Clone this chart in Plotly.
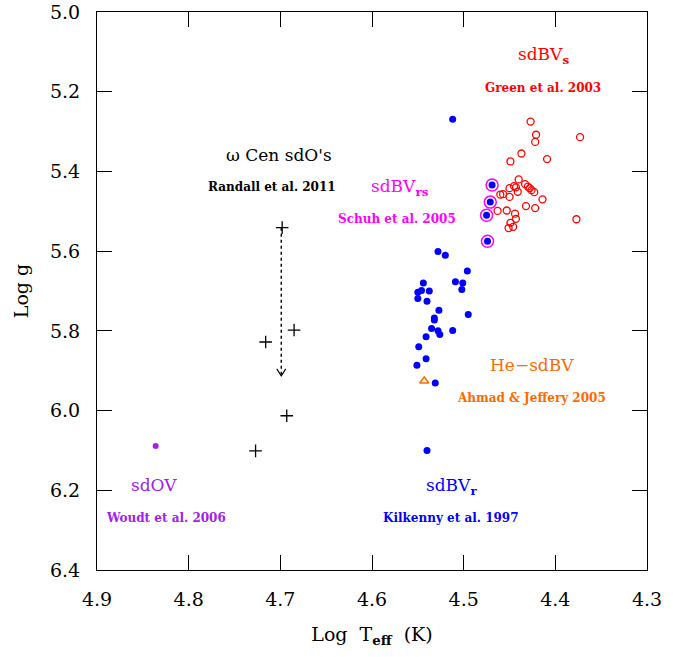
import plotly.graph_objects as go

# ---- data ----
# sdBVr (Kilkenny et al. 1997) - blue filled
sdbvr_logt = [4.512, 4.469, 4.471, 4.475, 4.474, 4.528, 4.520, 4.496, 4.544, 4.509,
              4.501, 4.502, 4.5375, 4.546, 4.550, 4.550, 4.540, 4.527, 4.532, 4.532,
              4.495, 4.535, 4.528, 4.526, 4.512, 4.541, 4.549, 4.541, 4.551, 4.531,
              4.540]
sdbvr_logg = [5.269, 5.434, 5.477, 5.510, 5.575, 5.601, 5.610, 5.650, 5.680, 5.677,
              5.680, 5.696, 5.700, 5.699, 5.703, 5.719, 5.726, 5.748, 5.768, 5.773,
              5.759, 5.794, 5.800, 5.809, 5.799, 5.815, 5.840, 5.870, 5.886, 5.931,
              6.100]

# sdBVrs (Schuh et al. 2005) - magenta rings
sdbvrs_logt = [4.469, 4.471, 4.475, 4.474]
sdbvrs_logg = [5.434, 5.477, 5.510, 5.575]

# sdBVs (Green et al. 2003) - red open circles
sdbvs_logt = [4.427, 4.421, 4.422, 4.373, 4.437, 4.449, 4.409, 4.440, 4.450, 4.445,
              4.443, 4.433, 4.430, 4.428, 4.426, 4.423, 4.441, 4.460, 4.457, 4.450,
              4.414, 4.463, 4.453, 4.432, 4.422, 4.444, 4.443, 4.449, 4.446, 4.451,
              4.377]
sdbvs_logg = [5.275, 5.308, 5.326, 5.314, 5.355, 5.375, 5.369, 5.420, 5.442, 5.437,
              5.440, 5.432, 5.438, 5.442, 5.447, 5.452, 5.451, 5.458, 5.457, 5.464,
              5.470, 5.499, 5.498, 5.487, 5.492, 5.506, 5.519, 5.529, 5.539, 5.542,
              5.520]

# omega Cen sdO's (Randall et al. 2011) - black plus
wcen_logt = [4.698, 4.685, 4.716, 4.693, 4.727]
wcen_logg = [5.541, 5.798, 5.828, 6.013, 6.101]
# lower-limit arrow on the first omega Cen star
arrow_logt = 4.699
arrow_logg_start = 5.541
arrow_logg_end = 5.913

# sdOV (Woudt et al. 2006)
sdov_logt = [4.836]
sdov_logg = [6.089]

# He-sdBV (Ahmad & Jeffery 2005)
hesdbv_logt = [4.543]
hesdbv_logg = [5.926]

x_ticks = [4.9, 4.8, 4.7, 4.6, 4.5, 4.4, 4.3]
y_ticks = [5.0, 5.2, 5.4, 5.6, 5.8, 6.0, 6.2, 6.4]

RED = "#ff0000"
BLUE = "#0000ff"
MAGENTA = "#ff00ff"
PURPLE = "#a020f0"
ORANGE = "#ff6a00"
SERIF = "DejaVu Serif"

fig = go.Figure()

# dotted arrow
fig.add_trace(go.Scatter(x=[arrow_logt, arrow_logt], y=[arrow_logg_start, arrow_logg_end],
                         mode="lines", line=dict(color="black", width=1.4, dash="dot"),
                         hoverinfo="skip", showlegend=False))
hx, hy = 0.0049, 0.0176
fig.add_trace(go.Scatter(x=[arrow_logt - hx, arrow_logt, arrow_logt + hx],
                         y=[arrow_logg_end - hy, arrow_logg_end, arrow_logg_end - hy],
                         mode="lines", line=dict(color="black", width=1.1),
                         hoverinfo="skip", showlegend=False))

fig.add_trace(go.Scatter(x=sdbvs_logt, y=sdbvs_logg, mode="markers",
                         marker=dict(symbol="circle-open", size=7, color=RED,
                                     line=dict(width=1.3, color=RED)),
                         showlegend=False))
fig.add_trace(go.Scatter(x=sdbvr_logt, y=sdbvr_logg, mode="markers",
                         marker=dict(symbol="circle", size=7, color=BLUE),
                         showlegend=False))
fig.add_trace(go.Scatter(x=sdbvrs_logt, y=sdbvrs_logg, mode="markers",
                         marker=dict(symbol="circle-open", size=12, color=MAGENTA,
                                     line=dict(width=1.5, color=MAGENTA)),
                         showlegend=False))
fig.add_trace(go.Scatter(x=wcen_logt, y=wcen_logg, mode="markers",
                         marker=dict(symbol="cross-thin", size=9, color="black",
                                     line=dict(width=1.3, color="black")),
                         showlegend=False))
fig.add_trace(go.Scatter(x=sdov_logt, y=sdov_logg, mode="markers",
                         marker=dict(symbol="circle", size=6, color=PURPLE),
                         showlegend=False))
fig.add_trace(go.Scatter(x=hesdbv_logt, y=hesdbv_logg, mode="markers",
                         marker=dict(symbol="triangle-up-open", size=8, color=ORANGE,
                                     line=dict(width=1.5, color=ORANGE)),
                         showlegend=False))

labels = [
    (4.413, 5.108, "sdBV<sub><b>s</b></sub>", RED, 17, False),
    (4.414, 5.191, "Green et al. 2003", RED, 12, True),
    (4.701, 5.359, "ω Cen sdO's", "black", 17, False),
    (4.709, 5.440, "Randall et al. 2011", "black", 12, True),
    (4.570, 5.440, "sdBV<sub><b>rs</b></sub>", MAGENTA, 17, False),
    (4.573, 5.519, "Schuh et al. 2005", MAGENTA, 12, True),
    (4.426, 5.886, "He−sdBV", ORANGE, 17, False),
    (4.426, 5.969, "Ahmad &amp; Jeffery 2005", ORANGE, 12, True),
    (4.838, 6.187, "sdOV", PURPLE, 17, False),
    (4.825, 6.270, "Woudt et al. 2006", PURPLE, 12, True),
    (4.513, 6.190, "sdBV<sub><b>r</b></sub>", BLUE, 17, False),
    (4.514, 6.270, "Kilkenny et al. 1997", BLUE, 12, True),
]
for x, y, t, c, s, b in labels:
    fig.add_annotation(x=x, y=y, text=(f"<b>{t}</b>" if b else t), showarrow=False,
                       font=dict(family=SERIF, size=s, color=c),
                       xanchor="center", yanchor="middle")

axis_common = dict(showline=True, linecolor="black", linewidth=1.2, mirror="ticks",
                   ticks="inside", ticklen=15, tickwidth=1.2, tickcolor="black",
                   showgrid=False, zeroline=False, automargin=False,
                   tickfont=dict(family=SERIF, size=19, color="black"))

fig.update_layout(
    width=690, height=657,
    margin=dict(l=97, r=43, t=12, b=87),
    paper_bgcolor="white", plot_bgcolor="white",
    xaxis=dict(range=[4.9, 4.3], tickvals=x_ticks, ticktext=[f"{v:.1f}" for v in x_ticks],
               ticklabelstandoff=12,
               title=dict(text="Log  T<sub><b>eff</b></sub>  (K)", standoff=18,
                          font=dict(family=SERIF, size=19, color="black")),
               **axis_common),
    yaxis=dict(range=[6.4, 5.0], tickvals=y_ticks, ticktext=[f"{v:.1f}" for v in y_ticks],
               ticklabelstandoff=12,
               title=dict(text="Log g", standoff=16,
                          font=dict(family=SERIF, size=19, color="black")),
               **axis_common),
)

fig.write_html("out.html")
